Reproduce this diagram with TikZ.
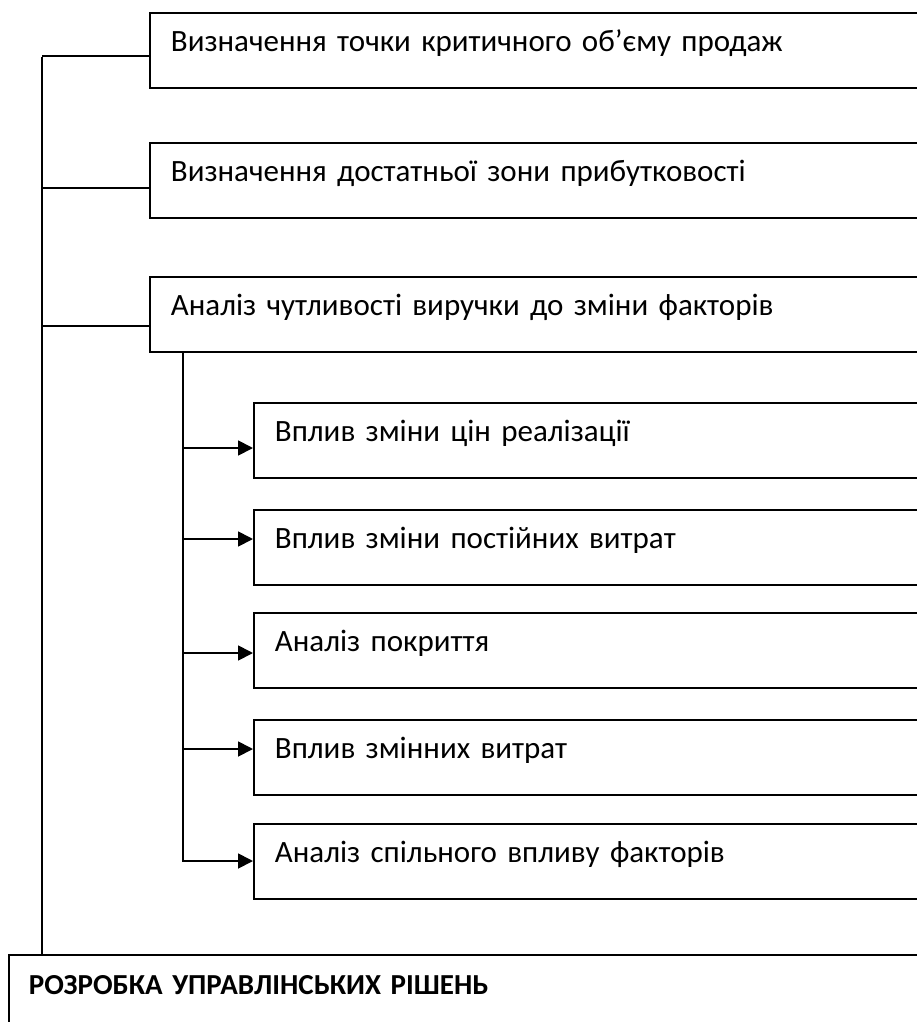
\documentclass[tikz,border=0pt]{standalone}
\usepackage{fontspec}
\setmainfont{Carlito}
\usetikzlibrary{arrows.meta}

\tikzset{
  box/.style={draw, line width=1.8pt, anchor=north west, inner ysep=0pt,
    inner xsep=21pt, text width=760pt, align=left,
    text height=39pt, text depth=36pt,
    font=\fontsize{31}{37}\selectfont},
  line/.style={line width=1.8pt},
  arrow/.style={line width=1.8pt, -{Triangle[length=15pt,width=15pt]}},
  finalbox/.style={box, text height=40pt, text depth=60pt, inner xsep=20pt,
    text width=900pt, font=\fontsize{29}{35}\selectfont\bfseries}
}

\begin{document}
\begin{tikzpicture}[x=1pt,y=-1pt]
  \useasboundingbox (0,0) rectangle (917,1022);
  \clip (0,0) rectangle (917,1022);

  % main stages
  \node[box] (b1) at (149,12)  {Визначення точки критичного об’єму продаж};
  \node[box] (b2) at (149,142) {Визначення достатньої зони прибутковості};
  \node[box] (b3) at (149,276) {Аналіз чутливості виручки до зміни факторів};

  % sensitivity factors
  \node[box] (s1) at (253,402) {Вплив зміни цін реалізації};
  \node[box] (s2) at (253,509) {Вплив зміни постійних витрат};
  \node[box] (s3) at (253,612) {Аналіз покриття};
  \node[box] (s4) at (253,719) {Вплив змінних витрат};
  \node[box] (s5) at (253,823) {Аналіз спільного впливу факторів};

  % final result
  \node[finalbox] (fin) at (8,954) {РОЗРОБКА УПРАВЛІНСЬКИХ РІШЕНЬ};

  % main trunk and its branches
  \coordinate (t0) at (42,57);
  \coordinate (j1) at (42,56);
  \coordinate (j2) at (42,188);
  \coordinate (j3) at (42,326);
  \draw[line] (t0) -- (t0 |- fin.north);
  \draw[line] (j1) -- (j1 -| b1.west);
  \draw[line] (j2) -- (j2 -| b2.west);
  \draw[line] (j3) -- (j3 -| b3.west);

  % secondary trunk with arrows to the factors
  \coordinate (st) at ([xshift=34pt]b3.south west);
  \coordinate (a1) at (183,448);
  \coordinate (a2) at (183,539);
  \coordinate (a3) at (183,653);
  \coordinate (a4) at (183,749);
  \coordinate (a5) at (183,861);
  \draw[arrow] (st) -- (st |- a5) -- (a5 -| s5.west);
  \draw[arrow] (a1) -- (a1 -| s1.west);
  \draw[arrow] (a2) -- (a2 -| s2.west);
  \draw[arrow] (a3) -- (a3 -| s3.west);
  \draw[arrow] (a4) -- (a4 -| s4.west);
\end{tikzpicture}
\end{document}
